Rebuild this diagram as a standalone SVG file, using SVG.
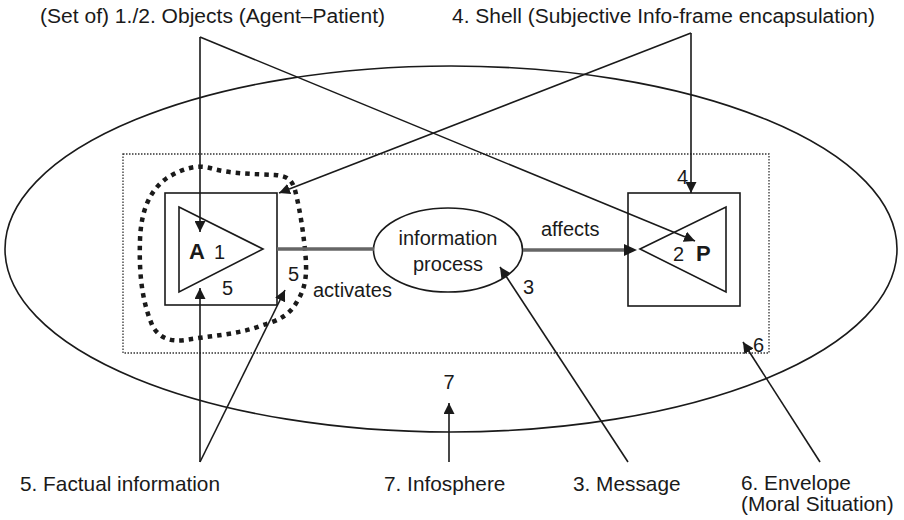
<svg xmlns="http://www.w3.org/2000/svg" width="904" height="520" viewBox="0 0 904 520">
<defs>
<marker id="ah" viewBox="0 0 10 10" refX="10" refY="5" markerWidth="11" markerHeight="11" markerUnits="userSpaceOnUse" orient="auto"><path d="M0,0 L10,5 L0,10 z" fill="#1a1a1a"/></marker>
</defs>
<style>
text{font-family:"Liberation Sans",Arial,sans-serif;font-size:20px;fill:#1a1a1a}
.b{font-weight:bold;font-size:22px}
.bt{font-size:20.8px}
.ln{fill:none;stroke:#1a1a1a;stroke-width:1.6}
.ar{fill:none;stroke:#1a1a1a;stroke-width:1.6;marker-end:url(#ah)}
.gr{fill:none;stroke:#666;stroke-width:3.5}
</style>
<rect width="904" height="520" fill="#fff"/>
<g id="infosphere"><ellipse cx="451" cy="249" rx="446" ry="183" class="ln"/><text x="449" y="389" text-anchor="middle">7</text></g>
<g id="envelope"><rect x="123" y="154" width="646" height="199" fill="none" stroke="#333" stroke-width="1.3" stroke-dasharray="1.5,1.5"/><text x="753" y="352">6</text></g>
<g id="factual"><path d="M167,178 C150,190 141,210 140,240 C139,270 141,300 153,327 C160,338 170,342 185,340 C210,336 240,334 260,326 C280,320 290,315 298,300 C307,285 307,270 305,250 C303,230 300,210 295,190 C292,180 288,176 275,175 C255,174 230,174 210,168 C195,164 180,170 167,178 Z" fill="none" stroke="#1a1a1a" stroke-width="4.5" stroke-dasharray="4.5,5"/></g>
<g id="agent"><rect x="165" y="193" width="112" height="112" class="ln"/><path d="M179,207 L263,249 L179,292 Z" class="ln"/><text x="189" y="259" class="b">A</text><text x="214" y="259">1</text><text x="222" y="295">5</text><text x="288" y="281">5</text></g>
<g id="process"><ellipse cx="448" cy="250" rx="74.5" ry="42" class="ln"/><text x="448" y="245" text-anchor="middle">information</text><text x="448" y="271" text-anchor="middle">process</text></g>
<g id="patient"><rect x="628" y="193" width="112" height="113" class="ln"/><path d="M640,249 L726,207 L726,292 Z" class="ln"/><text x="673" y="261">2</text><text x="696" y="261" class="b">P</text><text x="677" y="184">4</text></g>
<g id="connectors">
<line x1="277" y1="249" x2="374" y2="249" class="gr"/>
<line x1="523" y1="250" x2="626" y2="250" class="gr"/>
<path d="M624,244 L637,250 L624,256 z" fill="#1a1a1a"/>
<polyline points="200,37 200,232" class="ar"/>
<line x1="200" y1="37" x2="695" y2="241" class="ar"/>
<line x1="691" y1="33" x2="691" y2="193" class="ar"/>
<line x1="691" y1="33" x2="279" y2="193" class="ar"/>
<line x1="200" y1="462" x2="200" y2="288" class="ar"/>
<line x1="200" y1="462" x2="285" y2="290" class="ar"/>
<line x1="449" y1="462" x2="449" y2="403" class="ar"/>
<line x1="628" y1="462" x2="500" y2="267" class="ar"/>
<line x1="820" y1="462" x2="743" y2="342" class="ar"/>
<text x="313" y="297">activates</text>
<text x="541" y="236">affects</text>
<text x="523" y="294">3</text>
</g>
<g id="labels">
<text x="40" y="23" textLength="345" lengthAdjust="spacingAndGlyphs">(Set of) 1./2. Objects (Agent–Patient)</text>
<text x="452" y="23" textLength="423" lengthAdjust="spacingAndGlyphs">4. Shell (Subjective Info-frame encapsulation)</text>
<text x="20" y="491" class="bt">5. Factual information</text>
<text x="384" y="491" class="bt">7. Infosphere</text>
<text x="573" y="491" class="bt">3. Message</text>
<text x="741" y="490" class="bt">6. Envelope</text>
<text x="741" y="511" class="bt">(Moral Situation)</text>
</g>
</svg>
